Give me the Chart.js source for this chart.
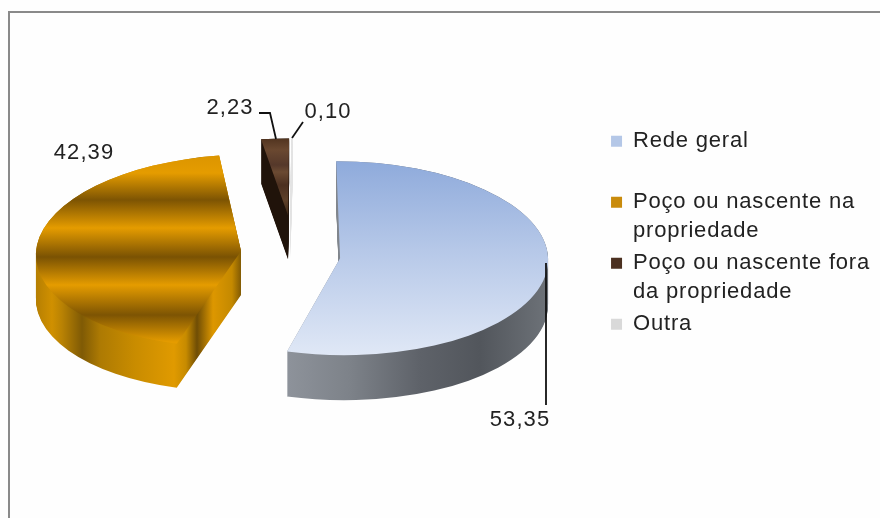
<!DOCTYPE html>
<html>
<head>
<meta charset="utf-8">
<script src="https://cdn.jsdelivr.net/npm/chart.js@4"></script>
<style>
  html, body { margin: 0; background: #fefefe; }
  body { width: 880px; height: 518px; overflow: hidden; position: relative; }
  #frame { position: absolute; left: 8px; top: 11px; width: 900px; height: 540px; border: 2.5px solid #8a8a8a; }
  canvas { position: absolute; left: 0; top: 0; }
</style>
</head>
<body>
<div id="frame"></div>
<canvas id="pie" width="880" height="518"></canvas>
<script>
const categories = ["Rede geral", "Poço ou nascente na propriedade", "Poço ou nascente fora da propriedade", "Outra"];
const legendRows = [["Rede geral", ""], ["Poço ou nascente na", "propriedade"], ["Poço ou nascente fora", "da propriedade"], ["Outra", ""]];
const shares = [53.35, 42.39, 2.23, 0.10];
const swatches = ["#B4C7E7", "#C98B0C", "#4B3020", "#D9D9D9"];

// how the flat pie is pulled apart and laid over to look 3D, one entry per slice
// (not the library's offset option, it eats the angle of thin slices)
const explode = [48.5, 48, 30, 30];
const pieCentre = { x: 290, y: 254 };
const radiusX = [208, 205, 197, 197];
const radiusY = [97, 96.5, 77, 77];
const shear = [0.04, -0.09, -0.03, -0.03];
const lift = [1, -1.5, -27, -27];
const depth = [45, 44, 44, 44];

const font = "Liberation Sans, Arial, sans-serif";
const tracking = "0.8px";
const valueLabels = [
  { x: 520, y: 420 },
  { x: 84, y: 153 },
  { x: 230, y: 108 },
  { x: 328, y: 112 },
];
const leaders = [
  [[546, 263], [546, 405]],
  [],
  [[259, 113], [270, 113], [276, 139]],
  [[303, 122], [292, 138]],
];

function stops(g, from, to, list) {
  list.forEach(([p, c]) => g.addColorStop((p - from) / (to - from), c));
  return g;
}

function topPaint(ctx, i) {
  if (i === 0) return stops(ctx.createLinearGradient(0, 160, 0, 356), 160, 356, [[160, "#8EAADB"], [250, "#B6C8E8"], [356, "#E0E8F6"]]);
  if (i === 1) return stops(ctx.createLinearGradient(0, 150, 0, 350), 150, 350, [
    [150, "#D99300"], [173, "#E59C00"], [200, "#7D5403"], [228, "#E59C00"], [257, "#7A5203"], [285, "#E59C00"], [315, "#7D5403"], [342, "#E59C00"], [350, "#E59C00"],
  ]);
  if (i === 2) return stops(ctx.createLinearGradient(0, 135, 0, 220), 135, 220, [
    [135, "#4A2E1B"], [150, "#6A4830"], [165, "#55382A"], [172, "#6B4A32"], [185, "#4C3020"], [200, "#5E4029"], [220, "#33200F"],
  ]);
  return "#E3E3E3";
}

function sidePaint(ctx, i) {
  if (i === 0) return stops(ctx.createLinearGradient(285, 0, 550, 0), 285, 550, [[285, "#8E939B"], [350, "#7D8289"], [420, "#5E6269"], [480, "#52565C"], [550, "#6E7379"]]);
  if (i === 1) return stops(ctx.createLinearGradient(36, 0, 242, 0), 36, 242, [
    [36, "#B67F02"], [52, "#D09000"], [62, "#B98203"], [82, "#7F5A05"], [100, "#AD7A03"], [135, "#C98C00"], [174, "#E09A00"], [186, "#C78B00"], [197, "#6F4D05"], [213, "#DD9700"], [232, "#C48900"], [242, "#7A5504"],
  ]);
  if (i === 2) return "#20130A";
  return "#E3E3E3";
}

const pie3d = {
  id: "pie3d",
  beforeUpdate(chart) {
    chart.ctx.letterSpacing = tracking;
  },
  beforeDatasetDraw(chart, args) {
    const off = document.createElement("canvas");
    off.width = chart.width;
    off.height = chart.height;
    const o = off.getContext("2d");

    function paint(arc, i, drop, fill) {
      o.setTransform(1, 0, 0, 1, 0, 0);
      o.clearRect(0, 0, off.width, off.height);
      const sx = radiusX[i] / arc.outerRadius;
      const sy = radiusY[i] / arc.outerRadius;
      const k = shear[i] * sy;
      const mid = (arc.startAngle + arc.endAngle) / 2;
      for (let d = drop; d >= 0; d--) {
        o.setTransform(sx, 0, k, sy, pieCentre.x - sx * arc.x - k * arc.y, pieCentre.y + lift[i] + d - sy * arc.y);
        o.translate(Math.cos(mid) * explode[i], Math.sin(mid) * explode[i]);
        arc.draw(o);
      }
      o.setTransform(1, 0, 0, 1, 0, 0);
      o.globalCompositeOperation = "source-in";
      o.fillStyle = fill;
      o.fillRect(0, 0, off.width, off.height);
      o.globalCompositeOperation = "source-over";
      chart.ctx.drawImage(off, 0, 0);
    }

    args.meta.data.forEach((arc, i) => {
      paint(arc, i, depth[i], sidePaint(o, i));
      paint(arc, i, 0, topPaint(o, i));
    });
    return false;
  },
  afterDatasetsDraw(chart) {
    const ctx = chart.ctx;
    ctx.save();
    ctx.strokeStyle = "#111";
    ctx.lineWidth = 1.8;
    leaders.forEach((line) => {
      if (!line.length) return;
      ctx.beginPath();
      line.forEach(([x, y], n) => (n ? ctx.lineTo(x, y) : ctx.moveTo(x, y)));
      ctx.stroke();
    });
    ctx.fillStyle = "#222";
    ctx.font = "22px " + font;
    ctx.letterSpacing = "1.1px";
    ctx.textAlign = "center";
    ctx.textBaseline = "middle";
    shares.forEach((v, i) => {
      ctx.fillText(v.toFixed(2).replace(".", ","), valueLabels[i].x, valueLabels[i].y);
    });
    ctx.restore();
  },
};

new Chart(document.getElementById("pie"), {
  type: "pie",
  plugins: [pie3d],
  data: {
    labels: categories,
    datasets: [{ data: shares, backgroundColor: swatches, borderWidth: 0, hoverOffset: 0 }],
  },
  options: {
    responsive: false,
    animation: false,
    radius: 200,
    layout: { padding: { bottom: 18 } },
    plugins: {
      tooltip: { enabled: false },
      legend: {
        position: "right",
        labels: {
          boxWidth: 11,
          boxHeight: 11,
          padding: 4.7,
          color: "#222",
          font: { family: font, size: 22, lineHeight: 1.28 },
          generateLabels(chart) {
            return Chart.overrides.pie.plugins.legend.labels.generateLabels(chart).map((item, i) => ({ ...item, text: legendRows[i] }));
          },
        },
      },
    },
  },
});
</script>
</body>
</html>
